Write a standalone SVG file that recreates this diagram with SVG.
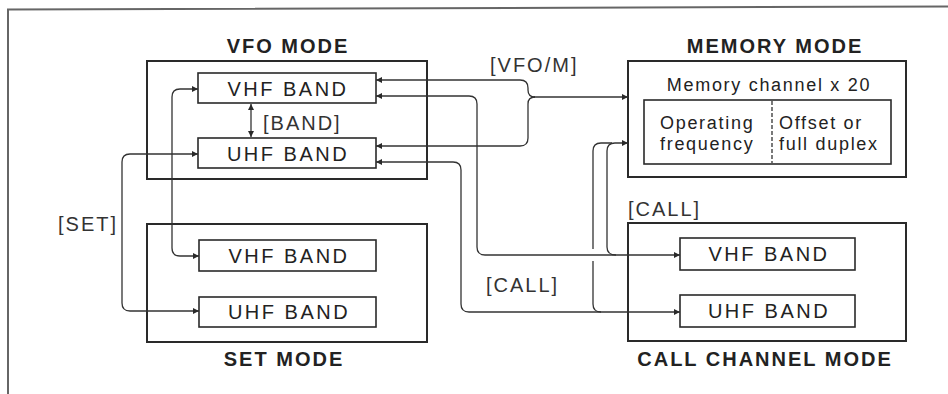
<svg xmlns="http://www.w3.org/2000/svg" width="948" height="394" viewBox="0 0 948 394">
<defs>
<marker id="ah" viewBox="0 0 10 10" refX="10" refY="5" markerWidth="7" markerHeight="6" markerUnits="userSpaceOnUse" orient="auto-start-reverse">
<path d="M0,0 L10,5 L0,10 z" fill="#2a2a2a"/>
</marker>
<style>
.frame{fill:none;stroke:#666;stroke-width:2}
.outer{fill:none;stroke:#2a2a2a;stroke-width:2}
.inner{fill:none;stroke:#2a2a2a;stroke-width:1.6}
.con{fill:none;stroke:#333;stroke-width:1.3}
.arr{marker-end:url(#ah)}
.arr2{marker-start:url(#ah);marker-end:url(#ah)}
.title{font-family:"Liberation Sans",Arial,sans-serif;font-weight:bold;font-size:20px;letter-spacing:2px;fill:#222;text-anchor:middle}
.band{font-family:"Liberation Sans",Arial,sans-serif;font-size:20px;letter-spacing:2.5px;fill:#222;text-anchor:middle}
.lbl{font-family:"Liberation Sans",Arial,sans-serif;font-size:20px;letter-spacing:2px;fill:#333}
.mem{font-family:"Liberation Sans",Arial,sans-serif;font-size:18px;letter-spacing:1.7px;fill:#222}
</style>
</defs>
<rect width="948" height="394" fill="#fff"/>
<path class="frame" d="M 8 394 V 9.5 L 948 6.5"/>

<g id="vfo-mode">
<text class="title" x="288" y="53">VFO MODE</text>
<rect class="outer" x="147" y="61" width="280" height="118"/>
</g>
<g id="vfo-vhf">
<rect class="inner" x="198" y="73" width="178" height="30"/>
<text class="band" x="288" y="96">VHF BAND</text>
</g>
<g id="vfo-uhf">
<rect class="inner" x="198" y="138" width="178" height="30"/>
<text class="band" x="288" y="161">UHF BAND</text>
</g>

<g id="memory-mode">
<text class="title" x="775" y="53">MEMORY MODE</text>
<rect class="outer" x="628" y="61" width="278" height="116"/>
<text class="mem" x="769" y="91" text-anchor="middle">Memory channel x 20</text>
<rect class="inner" x="644" y="100" width="247" height="64"/>
<line x1="772" y1="101" x2="772" y2="163" stroke="#333" stroke-width="1.3" stroke-dasharray="4 2"/>
<text class="mem" x="660" y="129">Operating</text>
<text class="mem" x="660" y="150">frequency</text>
<text class="mem" x="779" y="129">Offset or</text>
<text class="mem" x="779" y="150">full duplex</text>
</g>

<g id="set-mode">
<rect class="outer" x="147" y="224" width="280" height="118"/>
<text class="title" x="284" y="366">SET MODE</text>
</g>
<g id="set-vhf">
<rect class="inner" x="199" y="240" width="177" height="31"/>
<text class="band" x="289" y="263">VHF BAND</text>
</g>
<g id="set-uhf">
<rect class="inner" x="199" y="297" width="177" height="30"/>
<text class="band" x="289" y="319">UHF BAND</text>
</g>

<g id="call-mode">
<rect class="outer" x="628" y="223" width="278" height="118"/>
<text class="title" x="765" y="366">CALL CHANNEL MODE</text>
</g>
<g id="call-vhf">
<rect class="inner" x="680" y="238" width="175" height="32"/>
<text class="band" x="769" y="261">VHF BAND</text>
</g>
<g id="call-uhf">
<rect class="inner" x="680" y="295" width="175" height="32"/>
<text class="band" x="769" y="318">UHF BAND</text>
</g>

<g id="connectors">
<path class="con arr" d="M 535 97 Q 528 97 528 90 V 88 Q 528 80 520 80 H 376"/>
<path class="con arr" d="M 535 97 Q 528 97 528 104 V 138 Q 528 146 520 146 H 376"/>
<path class="con arr" d="M 534 97 H 628"/>
<path class="con arr2" d="M 680 255 H 485 Q 477 255 477 247 V 104 Q 477 96 469 96 H 376"/>
<path class="con arr" d="M 616 255 Q 607 255 607 247 V 151 Q 607 143 615 143 H 628"/>
<path class="con" d="M 601 312 Q 593 312 593 304 V 261 M 593 249 V 151 Q 593 143 601 143 H 612"/>
<path class="con arr2" d="M 680 312 H 469 Q 461 312 461 304 V 170 Q 461 162 453 162 H 376"/>
<path class="con arr2" d="M 198 89 H 180 Q 172 89 172 97 V 248 Q 172 256 180 256 H 199"/>
<path class="con arr2" d="M 198 154 H 130 Q 122 154 122 162 V 303 Q 122 311 130 311 H 199"/>
<path class="con arr2" d="M 251 104 V 137"/>
</g>

<g id="labels">
<text class="lbl" x="490" y="72">[VFO/M]</text>
<text class="lbl" x="263" y="130">[BAND]</text>
<text class="lbl" x="58" y="231">[SET]</text>
<text class="lbl" x="628" y="216">[CALL]</text>
<text class="lbl" x="486" y="292">[CALL]</text>
</g>
</svg>
